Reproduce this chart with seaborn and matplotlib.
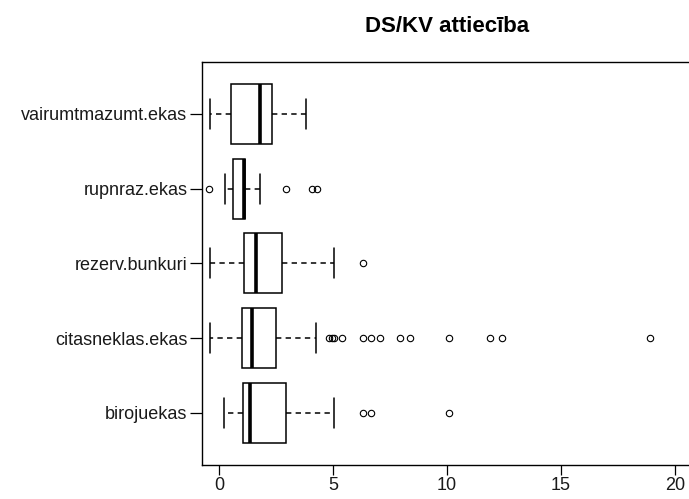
import matplotlib
matplotlib.use("Agg")
import matplotlib.pyplot as plt
import seaborn as sns
import pandas as pd

# DS/KV ratio observations per building category
vairumtmazumt_ekas = [-0.43, 0.12, 0.49, 1.21, 1.78, 2.05, 2.32, 3.02, 3.80]
rupnraz_ekas = [-0.44, 0.25, 0.41, 0.52, 0.60, 0.74, 0.88, 1.01, 1.08,
                1.09, 1.10, 1.11, 1.12, 1.76, 2.93, 4.08, 4.29]
rezerv_bunkuri = [-0.43, 0.64, 1.09, 1.37, 1.60, 2.18, 2.76, 5.02, 6.29]
citasneklas_ekas = [-0.43, -0.31, -0.12, 0.06, 0.19, 0.33, 0.44, 0.57, 0.62,
                    0.71, 0.77, 0.86, 0.90, 0.97, 1.00, 1.02, 1.06, 1.07,
                    1.12, 1.13, 1.18, 1.19, 1.24, 1.27, 1.28, 1.33, 1.36,
                    1.38, 1.41, 1.46, 1.49, 1.57, 1.61, 1.71, 1.77, 1.88,
                    1.94, 2.06, 2.12, 2.23, 2.30, 2.41, 2.48, 4.26, 4.80,
                    4.94, 5.05, 5.40, 6.29, 6.64, 7.04, 7.95, 8.36, 10.07,
                    11.87, 12.43, 18.91]
birojuekas = [0.22, 0.61, 0.88, 0.97, 1.04, 1.10, 1.18, 1.26, 1.33, 1.62,
              1.95, 2.41, 2.92, 5.01, 6.29, 6.65, 10.07]

categories = ["vairumtmazumt.ekas", "rupnraz.ekas", "rezerv.bunkuri",
              "citasneklas.ekas", "birojuekas"]
series = [vairumtmazumt_ekas, rupnraz_ekas, rezerv_bunkuri,
          citasneklas_ekas, birojuekas]
x_ticks = [0, 5, 10, 15, 20]
title = "DS/KV attiecība"

df = pd.DataFrame({
    "grupa": [c for c, vals in zip(categories, series) for _ in vals],
    "attieciba": [v for vals in series for v in vals],
})

sns.set_style("ticks")
plt.rcParams["font.family"] = ["Liberation Sans", "DejaVu Sans"]

W, H = 689, 499
fig = plt.figure(figsize=(W / 100, H / 100), dpi=100)
left, right, top, bottom = 201.7, 693.3, 61.7, 465.0
ax = fig.add_axes([left / W, (H - bottom) / H, (right - left) / W, (bottom - top) / H])

lw = 1.1
sns.boxplot(
    data=df, x="attieciba", y="grupa", order=categories, orient="h",
    width=0.8, ax=ax,
    boxprops=dict(facecolor="white", edgecolor="black", linewidth=lw),
    whiskerprops=dict(color="black", linewidth=lw, linestyle=(0, (3.5, 2.8))),
    capprops=dict(color="black", linewidth=lw),
    medianprops=dict(color="black", linewidth=2.6, solid_capstyle="butt"),
    flierprops=dict(marker="o", markersize=4.6, markerfacecolor="none",
                    markeredgecolor="black", markeredgewidth=0.8),
)

ax.set_xlim(-0.78, 20.81)
ax.set_ylim(4.7, -0.7)
ax.set_xticks(x_ticks)
ax.set_xticklabels([str(t) for t in x_ticks])
ax.set_xlabel("")
ax.set_ylabel("")

for sp in ax.spines.values():
    sp.set_visible(True)
    sp.set_linewidth(1.0)
    sp.set_color("black")

ax.tick_params(axis="both", direction="out", length=8.4, width=0.9,
               colors="black", labelsize=13, labelcolor="#1a1a1a")
ax.tick_params(axis="y", pad=2)
ax.tick_params(axis="x", length=7.5, pad=1.5)

fig.text(447.5 / W, 1 - 31.7 / H, title, ha="center", va="baseline",
         fontsize=16, fontweight="bold", color="black")

fig.savefig("out.png", dpi=100, facecolor="white")
